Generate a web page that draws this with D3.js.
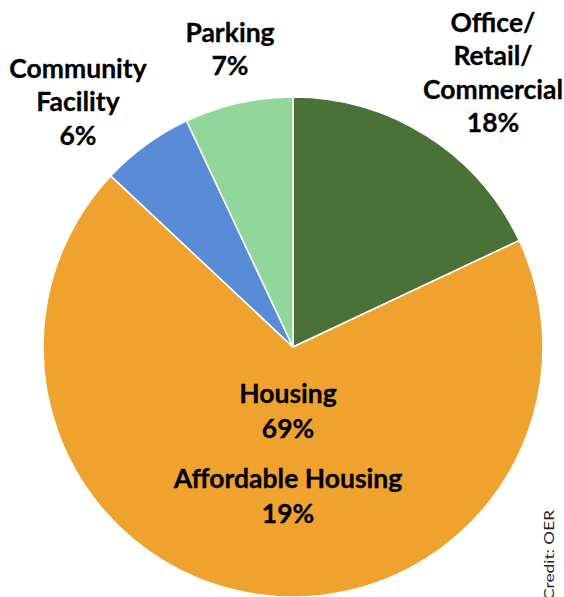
<!DOCTYPE html>
<html><head><meta charset="utf-8">
<script src="https://cdn.jsdelivr.net/npm/d3@7"></script>
<style>html,body{margin:0;padding:0;background:#fff;overflow:hidden}</style>
</head><body>
<svg id="chart" width="564" height="597"></svg>
<script>
const categories = ["Office/Retail/Commercial", "Housing", "Community Facility", "Parking"];
const values = [18, 69, 6, 7];
const colors = ["#4a7137", "#f0a22e", "#5a8bd6", "#93d69b"];
const labelLines = [
  ["Office/", "Retail/", "Commercial", "18%"],
  ["Housing", "69%"],
  ["Community", "Facility", "6%"],
  ["Parking", "7%"]
];
const subLabel = ["Affordable Housing", "19%"];
const credit = "Credit: OER";

const svg = d3.select("#chart");
const cx = 293, cy = 347, R = 250;
const pie = d3.pie().sort(null).value(d => d);
const arc = d3.arc().innerRadius(0).outerRadius(R);
const g = svg.append("g").attr("transform", `translate(${cx},${cy})`);
g.selectAll("path").data(pie(values)).join("path")
  .attr("d", arc)
  .attr("fill", (d, i) => colors[i])
  .attr("stroke", "#fff").attr("stroke-width", 1.5);

const font = "Lato, 'Open Sans', sans-serif";
const fs = 26.5;
// label anchor positions (center x, first baseline y)
const labelPos = [[493, 32], [288, 403], [78, 78], [230, 42]];
const lh = 33.3;
labelLines.forEach((lines, i) => {
  const t = svg.append("text").attr("text-anchor", "middle")
    .attr("font-family", font).attr("font-weight", "bold")
    .attr("font-size", fs).attr("fill", "#000")
    .attr("stroke", "#000").attr("stroke-width", 0.3);
  lines.forEach((s, j) => {
    t.append("tspan").attr("x", labelPos[i][0]).attr("y", labelPos[i][1] + j * (i === 1 ? 35 : lh)).text(s);
  });
});
const st = svg.append("text").attr("text-anchor", "middle")
  .attr("font-family", font).attr("font-weight", "bold")
  .attr("font-size", fs).attr("fill", "#000")
  .attr("stroke", "#000").attr("stroke-width", 0.3);
subLabel.forEach((s, j) => {
  st.append("tspan").attr("x", 288).attr("y", 488 + j * 35).text(s);
});

svg.append("text")
  .attr("transform", "translate(554,510) rotate(-90)")
  .attr("text-anchor", "end")
  .attr("font-family", font).attr("font-size", 14).attr("fill", "#222")
  .attr("textLength", 90).attr("lengthAdjust", "spacingAndGlyphs")
  .text(credit);
</script>
</body></html>
